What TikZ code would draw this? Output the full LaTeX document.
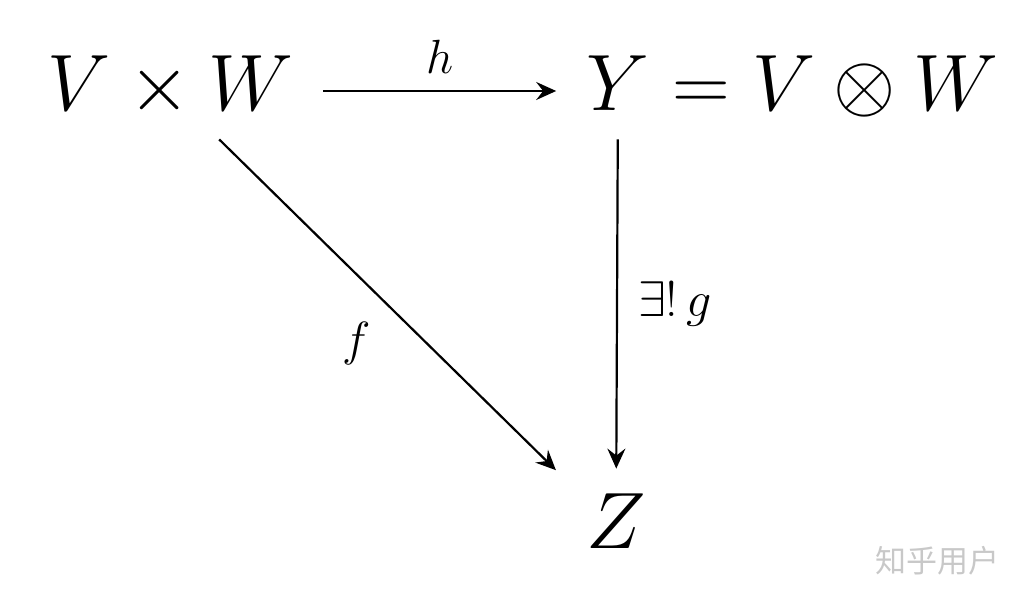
\documentclass[tikz,border=0pt]{standalone}
\usepackage{fix-cm}
\usepackage{fontspec}
\usepackage{tikz}
\usetikzlibrary{arrows.meta,positioning}
\newfontfamily\cjkfont{Noto Sans CJK SC}
\definecolor{MarkGray}{HTML}{C8C8C8}

\begin{document}
\begin{tikzpicture}[
  x=0.5pt,y=-0.5pt,
  obj/.style={font=\fontsize{40}{48}\selectfont,text height=28pt,text depth=8pt,inner xsep=15pt,inner ysep=6pt},
  lbl/.style={font=\fontsize{24}{29}\selectfont,inner sep=8pt},
  map/.style={-{Stealth[length=10pt,width=9pt,inset=3.5pt]},line width=1.1pt}
]
\useasboundingbox (0,0) rectangle (1029,597);
\node[obj] (vw) at (170,91) {$V\times W$};
\node[obj] (y) at (618,91) {$Y$};
\node[obj,base right=-15pt of y,inner sep=0pt] (ytail) {${}=V\otimes W$};
\node[obj,inner ysep=12pt] (z) at (616,529) {$Z$};
\draw[map] (vw) -- node[lbl,above] {$h$} (y);
\draw[map] (y) -- node[lbl,right,xshift=2pt,font=\fontsize{25}{30}\selectfont] {$\exists!\,g$} (z);
\draw[map] (vw) -- node[lbl,below left] {$f$} (z);
\node[font=\cjkfont\fontsize{15.5}{18}\selectfont,text=MarkGray] (mark) at (937,561) {知乎用户};
\end{tikzpicture}
\end{document}
